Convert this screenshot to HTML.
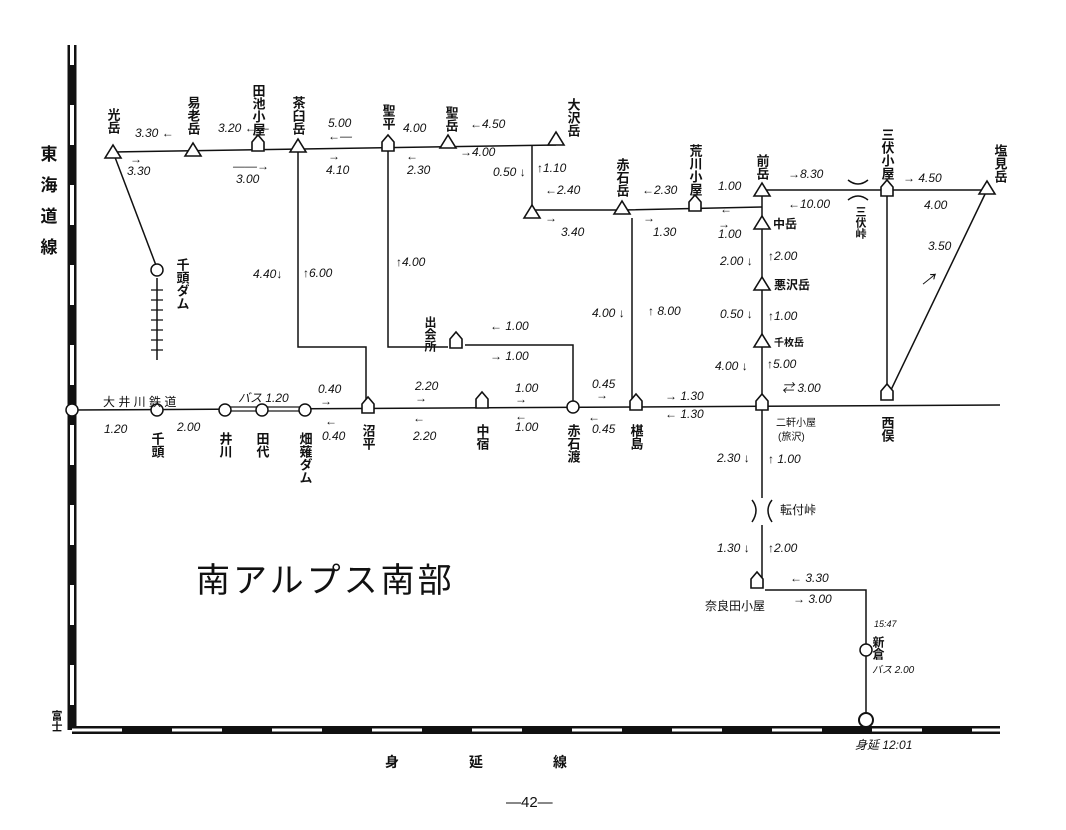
<!DOCTYPE html>
<html><head><meta charset="utf-8"><style>
html,body{margin:0;padding:0;background:#fff}
svg{display:block}
text{font-family:"Liberation Sans","Noto Sans CJK JP",sans-serif;fill:#111}
.n{font-size:12px;font-style:italic}
.v{writing-mode:vertical-rl;font-size:13px;font-weight:bold}
.l{stroke:#111;stroke-width:1.5;fill:none}
</style></head><body>
<svg width="1066" height="830" viewBox="0 0 1066 830" xmlns="http://www.w3.org/2000/svg">
<defs>
<path id="tri" d="M-8,6 L0,-7 L8,6 Z" fill="#fff" stroke="#111" stroke-width="1.6"/>
<path id="hut" d="M-6,8 L-6,-1 L0,-8 L6,-1 L6,8 Z" fill="#fff" stroke="#111" stroke-width="1.6"/>
<circle id="st" r="6" fill="#fff" stroke="#111" stroke-width="1.5"/>
</defs>
<line x1="72" y1="45" x2="72" y2="730" stroke="#111" stroke-width="9"/>
<line x1="72" y1="45" x2="72" y2="730" stroke="#fff" stroke-width="4" stroke-dasharray="40,40" stroke-dashoffset="20"/>
<line x1="72" y1="730" x2="1000" y2="730" stroke="#111" stroke-width="8"/>
<line x1="72" y1="730" x2="1000" y2="730" stroke="#fff" stroke-width="3" stroke-dasharray="50,50"/>
<g class="l">
<path d="M113,152 L556,145"/>
<path d="M532,145 L532,210 L622,210 L762,207"/>
<path d="M762,190 L887,190 L987,190"/>
<path d="M762,190 L762,405"/>
<path d="M887,190 L887,395"/>
<path d="M987,190 L890,392"/>
<path d="M113,152 L157,268"/>
<path d="M298,147 L298,347 L366,347 L366,405"/>
<path d="M388,147 L388,347 L448,347"/>
<path d="M465,345 L573,345 L573,405"/>
<path d="M632,218 L632,400"/>
<path d="M72,410 L1000,405" />
<path d="M762,410 L762,498 M762,525 L762,578"/>
<path d="M765,590 L866,590 L866,718"/>
<path d="M157,278 L157,360"/>
</g>
<g stroke="#111" stroke-width="1.2">
<path d="M151,290h12M151,300h12M151,310h12M151,320h12M151,330h12M151,340h12M151,350h12"/>
</g>
<rect x="225" y="407" width="80" height="4" fill="#fff" stroke="#111" stroke-width="1.2"/>
<path d="M848,180 q10,8 20,0 M848,200 q10,-8 20,0" class="l"/>
<path d="M752,500 q8,10 0,22 M772,500 q-8,10 0,22" class="l"/>
<use href="#tri" x="113" y="152"/><use href="#tri" x="193" y="150"/>
<use href="#hut" x="258" y="143"/><use href="#tri" x="298" y="146"/>
<use href="#hut" x="388" y="143"/><use href="#tri" x="448" y="142"/>
<use href="#tri" x="556" y="139"/><use href="#tri" x="532" y="212"/>
<use href="#tri" x="622" y="208"/><use href="#hut" x="695" y="203"/>
<use href="#tri" x="762" y="190"/><use href="#tri" x="762" y="223"/>
<use href="#tri" x="762" y="284"/><use href="#tri" x="762" y="341"/>
<use href="#hut" x="887" y="188"/><use href="#tri" x="987" y="188"/>
<use href="#st" x="157" y="270"/><use href="#hut" x="456" y="340"/>
<use href="#st" x="72" y="410"/><use href="#st" x="157" y="410"/>
<use href="#st" x="225" y="410"/><use href="#st" x="262" y="410"/><use href="#st" x="305" y="410"/>
<use href="#hut" x="368" y="405"/><use href="#hut" x="482" y="400"/>
<use href="#st" x="573" y="407"/><use href="#hut" x="636" y="402"/>
<use href="#hut" x="762" y="402"/><use href="#hut" x="887" y="392"/>
<use href="#hut" x="757" y="580"/><use href="#st" x="866" y="650"/>
<circle cx="866" cy="720" r="7" fill="#fff" stroke="#111" stroke-width="2"/>
<text class="v" x="47" y="145" style="font-size:17px;letter-spacing:14px">東海道線</text>
<text class="v" x="113" y="108">光岳</text>
<text class="v" x="193" y="96">易老岳</text>
<text class="v" x="258" y="84">田池小屋</text>
<text class="v" x="298" y="96">茶臼岳</text>
<text class="v" x="388" y="104">聖平</text>
<text class="v" x="451" y="106">聖岳</text>
<text class="v" x="573" y="98">大沢岳</text>
<text class="v" x="622" y="158">赤石岳</text>
<text class="v" x="695" y="144">荒川小屋</text>
<text class="v" x="762" y="154">前岳</text>
<text class="v" x="887" y="128">三伏小屋</text>
<text class="v" x="1000" y="144">塩見岳</text>
<text class="v" x="860" y="206" style="font-size:11px">三伏峠</text>
<text class="v" x="182" y="258">千頭ダム</text>
<text class="v" x="430" y="316" style="font-size:12px">出会所</text>
<text class="v" x="157" y="432">千頭</text>
<text class="v" x="225" y="432">井川</text>
<text class="v" x="262" y="432">田代</text>
<text class="v" x="305" y="432">畑薙ダム</text>
<text class="v" x="368" y="424">沼平</text>
<text class="v" x="482" y="424">中宿</text>
<text class="v" x="573" y="424">赤石渡</text>
<text class="v" x="636" y="424">椹島</text>
<text class="v" x="887" y="416">西俣</text>
<text class="v" x="56" y="710" style="font-size:11px">富士</text>
<text class="v" x="878" y="636" style="font-size:12px">新倉</text>
<text x="773" y="228" style="font-size:12px;font-weight:bold">中岳</text>
<text x="774" y="289" style="font-size:12px;font-weight:bold">悪沢岳</text>
<text x="774" y="346" style="font-size:10px;font-weight:bold">千枚岳</text>
<text x="776" y="426" style="font-size:10px">二軒小屋</text>
<text x="778" y="440" style="font-size:10px">(旅沢)</text>
<text x="780" y="514" style="font-size:12px">転付峠</text>
<text x="705" y="610" style="font-size:12px">奈良田小屋</text>
<text x="103" y="406" style="font-size:12px">大 井 川  鉄 道</text>
<text x="238" y="402" class="n">バス 1.20</text>
<text x="196" y="592" style="font-size:34px;letter-spacing:3px">南アルプス南部</text>
<text x="385" y="767" style="font-size:14px;font-weight:bold;letter-spacing:70px">身延線</text>
<text x="506" y="807" style="font-size:15px">—42—</text>
<text x="855" y="749" class="n">身延 12:01</text>
<text x="872" y="673" class="n" style="font-size:10px">バス 2.00</text>
<g class="n">
<text x="135" y="137">3.30 ←</text><text x="130" y="163">→</text><text x="127" y="175">3.30</text>
<text x="218" y="132">3.20 ←—</text><text x="233" y="170">——→</text><text x="236" y="183">3.00</text>
<text x="328" y="127">5.00</text><text x="328" y="140">←—</text><text x="328" y="160">→</text><text x="326" y="174">4.10</text>
<text x="403" y="132">4.00</text><text x="406" y="160">←</text><text x="407" y="174">2.30</text>
<text x="470" y="128">←4.50</text><text x="460" y="156">→4.00</text>
<text x="493" y="176">0.50 ↓</text><text x="537" y="172">↑1.10</text>
<text x="545" y="194">←2.40</text><text x="545" y="222">→</text><text x="561" y="236">3.40</text>
<text x="642" y="194">←2.30</text><text x="643" y="222">→</text><text x="653" y="236">1.30</text>
<text x="718" y="190">1.00</text><text x="720" y="213">←</text><text x="718" y="228">→</text><text x="718" y="238">1.00</text>
<text x="788" y="178">→8.30</text><text x="788" y="208">←10.00</text>
<text x="903" y="182">→ 4.50</text><text x="924" y="209">4.00</text>
<text x="928" y="250">3.50</text><text x="920" y="285" style="font-size:16px">↗</text>
<text x="720" y="265">2.00 ↓</text><text x="768" y="260">↑2.00</text>
<text x="720" y="318">0.50 ↓</text><text x="768" y="320">↑1.00</text>
<text x="715" y="370">4.00 ↓</text><text x="767" y="368">↑5.00</text>
<text x="782" y="392">⇄ 3.00</text>
<text x="253" y="278">4.40↓</text><text x="303" y="277">↑6.00</text>
<text x="396" y="266">↑4.00</text>
<text x="592" y="317">4.00 ↓</text><text x="648" y="315">↑ 8.00</text>
<text x="490" y="330">← 1.00</text><text x="490" y="360">→ 1.00</text>
<text x="318" y="393">0.40</text><text x="320" y="405">→</text><text x="325" y="425">←</text><text x="322" y="440">0.40</text>
<text x="415" y="390">2.20</text><text x="415" y="402">→</text><text x="413" y="422">←</text><text x="413" y="440">2.20</text>
<text x="515" y="392">1.00</text><text x="515" y="403">→</text><text x="515" y="420">←</text><text x="515" y="431">1.00</text>
<text x="592" y="388">0.45</text><text x="596" y="399">→</text><text x="588" y="421">←</text><text x="592" y="433">0.45</text>
<text x="665" y="400">→ 1.30</text><text x="665" y="418">← 1.30</text>
<text x="104" y="433">1.20</text><text x="177" y="431">2.00</text>
<text x="717" y="462">2.30 ↓</text><text x="768" y="463">↑ 1.00</text>
<text x="717" y="552">1.30 ↓</text><text x="768" y="552">↑2.00</text>
<text x="790" y="582">← 3.30</text><text x="793" y="603">→ 3.00</text>
<text x="874" y="627" style="font-size:9px">15:47</text>
</g>
</svg>
</body></html>
